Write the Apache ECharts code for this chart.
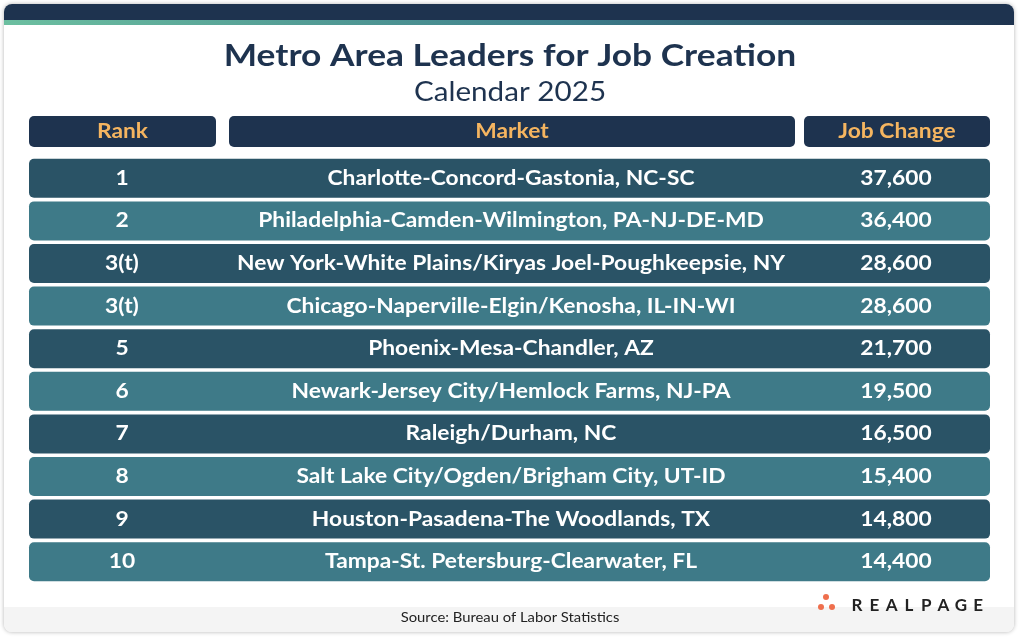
<!DOCTYPE html>
<html>
<head>
<meta charset="UTF-8">
<title>Metro Area Leaders for Job Creation</title>
<script src="https://cdn.jsdelivr.net/npm/echarts@6/dist/echarts.min.js"></script>
<style>body{margin:0;background:#fff}</style>
</head>
<body>
<div id="main" style="width:1020px;height:642px;"></div>
<script type="text/javascript">
    var ranks = ['1', '2', '3(t)', '3(t)', '5', '6', '7', '8', '9', '10'];
    var markets = [
        'Charlotte-Concord-Gastonia, NC-SC',
        'Philadelphia-Camden-Wilmington, PA-NJ-DE-MD',
        'New York-White Plains/Kiryas Joel-Poughkeepsie, NY',
        'Chicago-Naperville-Elgin/Kenosha, IL-IN-WI',
        'Phoenix-Mesa-Chandler, AZ',
        'Newark-Jersey City/Hemlock Farms, NJ-PA',
        'Raleigh/Durham, NC',
        'Salt Lake City/Ogden/Brigham City, UT-ID',
        'Houston-Pasadena-The Woodlands, TX',
        'Tampa-St. Petersburg-Clearwater, FL'
    ];
    var jobChange = [37600, 36400, 28600, 28600, 21700, 19500, 16500, 15400, 14800, 14400];
    var headers = ['Rank', 'Market', 'Job Change'];

    var myChart = echarts.init(document.getElementById('main'));
    var font = 'Lato, "Open Sans", sans-serif';
    var SX = 1.14; // the original lettering is a bit wider than Lato

    function label(x, y, t, fill, f) {
        return {type: 'text', x: x, y: y, scaleX: SX, style: {text: t, fill: fill, font: f, align: 'center', verticalAlign: 'middle'}};
    }

    function headerBox(x, w, t) {
        return {
            type: 'group', children: [
                {type: 'rect', shape: {x: x, y: 116, width: w, height: 31, r: 5}, style: {fill: '#1e334f'}},
                label(x + w / 2, 131.5, t, '#f5b560', 'bold 20px ' + font)
            ]
        };
    }

    var graphic = [
        {type: 'rect', z: -10, shape: {x: 4, y: 4, width: 1010, height: 628, r: 8}, style: {fill: '#fff', shadowBlur: 4, shadowColor: 'rgba(0,0,0,0.3)'}},
        {type: 'rect', z: -9, shape: {x: 4, y: 4, width: 1010, height: 18, r: [8, 8, 0, 0]}, style: {fill: '#1e334f'}},
        {type: 'rect', z: -9, shape: {x: 4, y: 20, width: 1010, height: 5}, style: {fill: new echarts.graphic.LinearGradient(0, 0, 1, 0, [{offset: 0, color: '#6cbfa0'}, {offset: 0.55, color: '#3e7f8c'}, {offset: 1, color: '#1e334f'}])}},
        {type: 'rect', z: -9, shape: {x: 4, y: 607, width: 1010, height: 25, r: [0, 0, 8, 8]}, style: {fill: '#f4f4f4'}},
        label(510, 56, 'Metro Area Leaders for Job Creation', '#1e334f', 'bold 31px ' + font),
        label(510, 93, 'Calendar 2025', '#1e334f', '26px ' + font),
        headerBox(29, 187, headers[0]),
        headerBox(229, 566, headers[1]),
        headerBox(804, 186, headers[2]),
        label(510, 618, 'Source: Bureau of Labor Statistics', '#222', '13px ' + font),
        {type: 'circle', shape: {cx: 826, cy: 597, r: 3}, style: {fill: '#ef6f4d'}},
        {type: 'circle', shape: {cx: 821, cy: 607, r: 3}, style: {fill: '#ef6f4d'}},
        {type: 'circle', shape: {cx: 832, cy: 607, r: 3}, style: {fill: '#ef6f4d'}}
    ];
    // spaced-out logo letters
    'REALPAGE'.split('').forEach(function (ch, k) {
        graphic.push({type: 'text', x: 857 + k * 17.3, y: 606, style: {text: ch, fill: '#222', font: 'bold 17px ' + font, align: 'center', verticalAlign: 'middle'}});
    });

    var option = {
        animation: false,
        graphic: graphic,
        grid: {left: 29, right: 30, top: 157, bottom: 59},
        xAxis: {type: 'value', min: 0, max: 1, show: false},
        yAxis: {type: 'category', inverse: true, data: ranks.map(function (r, i) { return i; }), show: false},
        series: [{
            type: 'custom',
            data: jobChange.map(function (v, i) { return [0, i, v]; }),
            renderItem: function (params, api) {
                var i = api.value(1);
                var c = api.coord([0, i]);
                var cs = params.coordSys;
                var h = 39;
                var f = 'bold 20px ' + font;
                return {
                    type: 'group', children: [
                        {type: 'rect', shape: {x: cs.x, y: c[1] - h / 2, width: cs.width, height: h, r: 5}, style: {fill: i % 2 === 0 ? '#2a5366' : '#3e7a88'}},
                        label(cs.x + 93, c[1], ranks[i], '#fff', f),
                        label(511, c[1], markets[i], '#fff', f),
                        label(896, c[1], api.value(2).toLocaleString('en-US'), '#fff', f)
                    ]
                };
            }
        }]
    };
    myChart.setOption(option);
</script>
</body>
</html>
